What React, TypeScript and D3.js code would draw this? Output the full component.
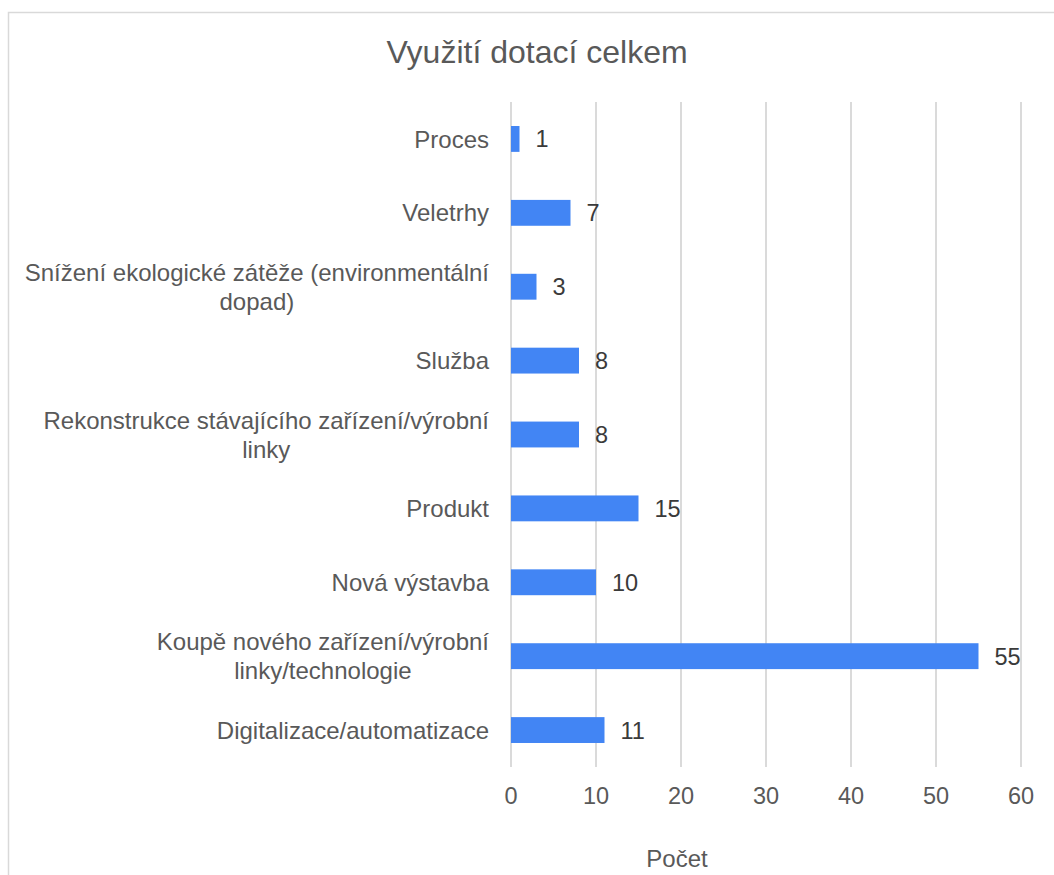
import React, { useEffect, useRef } from "react";
import * as d3 from "d3";

const categories: string[][] = [
  ["Proces"],
  ["Veletrhy"],
  ["Snížení ekologické zátěže (environmentální", "dopad)"],
  ["Služba"],
  ["Rekonstrukce stávajícího zařízení/výrobní", "linky"],
  ["Produkt"],
  ["Nová výstavba"],
  ["Koupě nového zařízení/výrobní", "linky/technologie"],
  ["Digitalizace/automatizace"],
];
const values: number[] = [1, 7, 3, 8, 8, 15, 10, 55, 11];
const xTicks: number[] = [0, 10, 20, 30, 40, 50, 60];
const title = "Využití dotací celkem";
const xTitle = "Počet";

const W = 1054;
const H = 875;
const FONT = "'Liberation Sans', Arial, Helvetica, sans-serif";

export default function App() {
  const ref = useRef<SVGSVGElement | null>(null);

  useEffect(() => {
    const svg = d3.select(ref.current);
    svg.selectAll("*").remove();

    const left = 511;
    const right = 1021;
    const top = 102;
    const bottom = 767;

    const x = d3.scaleLinear().domain([0, 60]).range([left, right]);
    const y = d3
      .scaleBand<number>()
      .domain(d3.range(categories.length))
      .range([top, bottom])
      .paddingInner(0.65)
      .paddingOuter(0.325);

    svg
      .append("rect")
      .attr("width", W)
      .attr("height", H)
      .attr("fill", "#ffffff");

    // frame
    svg
      .append("rect")
      .attr("x", 8.5)
      .attr("y", 12.5)
      .attr("width", W + 20)
      .attr("height", H + 20)
      .attr("fill", "none")
      .attr("stroke", "#d9d9d9")
      .attr("stroke-width", 1.5);

    // title
    svg
      .append("text")
      .attr("x", 537)
      .attr("y", 63)
      .attr("text-anchor", "middle")
      .attr("font-family", FONT)
      .attr("font-size", 32)
      .attr("fill", "#595959")
      .text(title);

    // grid
    svg
      .append("g")
      .selectAll("line")
      .data(xTicks)
      .join("line")
      .attr("x1", (d) => x(d))
      .attr("x2", (d) => x(d))
      .attr("y1", top)
      .attr("y2", bottom)
      .attr("stroke", "#dadada")
      .attr("stroke-width", 2);

    // tick labels
    svg
      .append("g")
      .selectAll("text")
      .data(xTicks)
      .join("text")
      .attr("x", (d) => x(d))
      .attr("y", 804)
      .attr("text-anchor", "middle")
      .attr("font-family", FONT)
      .attr("font-size", 23.5)
      .attr("fill", "#595959")
      .text((d) => String(d));

    // bars
    svg
      .append("g")
      .selectAll("rect")
      .data(values)
      .join("rect")
      .attr("x", x(0))
      .attr("y", (_, i) => y(i)!)
      .attr("width", (d) => x(d) - x(0))
      .attr("height", y.bandwidth())
      .attr("fill", "#4285f4");

    // value labels
    svg
      .append("g")
      .selectAll("text")
      .data(values)
      .join("text")
      .attr("x", (d) => x(d) + 16)
      .attr("y", (_, i) => y(i)! + y.bandwidth() / 2)
      .attr("dy", "0.36em")
      .attr("font-family", FONT)
      .attr("font-size", 23.5)
      .attr("fill", "#3a3a3a")
      .text((d) => String(d));

    // category labels
    const labelRight = 489;
    const lineH = 29;
    const lg = svg.append("g");
    categories.forEach((lines, i) => {
      const cy = y(i)! + y.bandwidth() / 2;
      const t = lg
        .append("text")
        .attr("font-family", FONT)
        .attr("font-size", 24)
        .attr("fill", "#595959")
        .attr("text-anchor", "middle");
      const spans = lines.map((ln, k) =>
        t
          .append("tspan")
          .attr("x", 0)
          .attr("y", cy + (k - (lines.length - 1) / 2) * lineH)
          .attr("dy", "0.36em")
          .text(ln)
      );
      const widths = spans.map((s) => (s.node() as SVGTSpanElement).getComputedTextLength());
      const maxW = Math.max(...widths);
      const cx = labelRight - maxW / 2;
      spans.forEach((s) => s.attr("x", cx));
    });

    // axis title
    svg
      .append("text")
      .attr("x", 677)
      .attr("y", 867)
      .attr("text-anchor", "middle")
      .attr("font-family", FONT)
      .attr("font-size", 24)
      .attr("fill", "#595959")
      .text(xTitle);
  }, []);

  return (
    <svg
      ref={ref}
      width={W}
      height={H}
      style={{ position: "absolute", left: 0, top: 0, display: "block" }}
    />
  );
}
